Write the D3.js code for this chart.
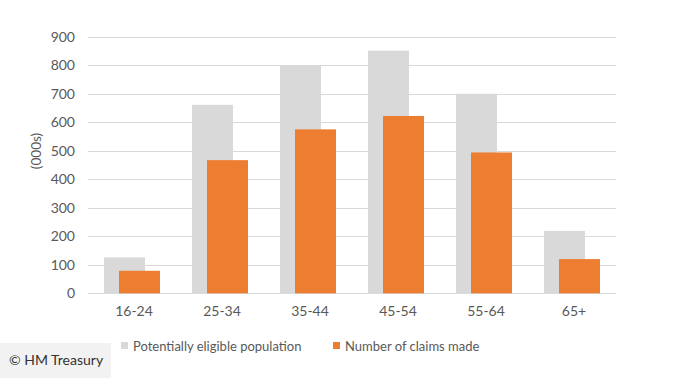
<!DOCTYPE html>
<html><head><meta charset="utf-8">
<script src="https://cdn.jsdelivr.net/npm/d3@7"></script>
<style>body{margin:0;background:#fff;}svg{display:block;font-family:"Lato","Open Sans",sans-serif;}</style>
</head><body>
<svg id="c" width="678" height="378"></svg>
<script>
const categories = ["16-24","25-34","35-44","45-54","55-64","65+"];
const eligible = [126, 661, 799, 851, 700, 219];
const claims = [79, 467, 575, 622, 494, 120];
const seriesNames = ["Potentially eligible population","Number of claims made"];
const yTicks = [0,100,200,300,400,500,600,700,800,900];
const colors = ["#d9d9d9","#ed7d31"];

(function(){
const svg = d3.select("#c");
const pLeft = 88, pRight = 616, pTop = 36.7, pBottom = 293.3;
const x0 = d3.scaleBand().domain(categories).range([pLeft, pRight]).paddingInner(0.364).paddingOuter(0.182);
const barW = x0.bandwidth() * 41/56;
const x1 = d3.scalePoint().domain(seriesNames).range([0, x0.bandwidth() - barW]);
const y = d3.scaleLinear().domain([0, 900]).range([pBottom, pTop]);

svg.append("g").selectAll("line").data(yTicks).join("line")
  .attr("x1", pLeft).attr("x2", pRight)
  .attr("y1", d => Math.round(y(d))+0.5).attr("y2", d => Math.round(y(d))+0.5)
  .attr("stroke", "#d9d9d9").attr("stroke-width", 1);

const yAxis = d3.axisLeft(y).tickValues(yTicks).tickSize(0).tickPadding(0);
const gy = svg.append("g").attr("transform", `translate(75,0)`).call(yAxis);
gy.select(".domain").remove();
gy.selectAll("text").attr("font-size", 14).attr("fill", "#595959").attr("font-family", "Lato, 'Open Sans', sans-serif");

svg.append("text").attr("transform", "translate(41,151) rotate(-90)")
  .attr("text-anchor", "middle").attr("font-size", 13.5).attr("fill", "#595959").text("(000s)");

const data = [eligible, claims];
data.forEach((vals, si) => {
  svg.append("g").selectAll("rect").data(categories).join("rect")
    .attr("x", c => x0(c) + x1(seriesNames[si]))
    .attr("width", barW)
    .attr("y", (c, i) => y(vals[i]))
    .attr("height", (c, i) => y(0) - y(vals[i]))
    .attr("fill", colors[si]);
});

const xAxis = d3.axisBottom(d3.scaleBand().domain(categories).range([pLeft + 2, pRight + 2])).tickSize(0).tickPadding(0);
const gx = svg.append("g").attr("transform", `translate(0,${pBottom+12.5})`).call(xAxis);
gx.select(".domain").remove();
gx.selectAll("text").attr("font-size", 14).attr("fill", "#595959").attr("font-family", "Lato, 'Open Sans', sans-serif").attr("dy", "0.71em");

const legX = [121, 333];
seriesNames.forEach((n, i) => {
  svg.append("rect").attr("x", legX[i]).attr("y", 342).attr("width", 7).attr("height", 7).attr("fill", colors[i]);
  svg.append("text").attr("x", legX[i] + 12).attr("y", 350.5).attr("font-size", 13).attr("fill", "#595959").text(n);
});

svg.append("rect").attr("x", 0).attr("y", 343).attr("width", 111).attr("height", 35).attr("fill", "#f2f2f2");
svg.append("text").attr("x", 9).attr("y", 364.5).attr("font-size", 14).attr("fill", "#333").text("© HM Treasury");
})();
</script>
</body></html>
